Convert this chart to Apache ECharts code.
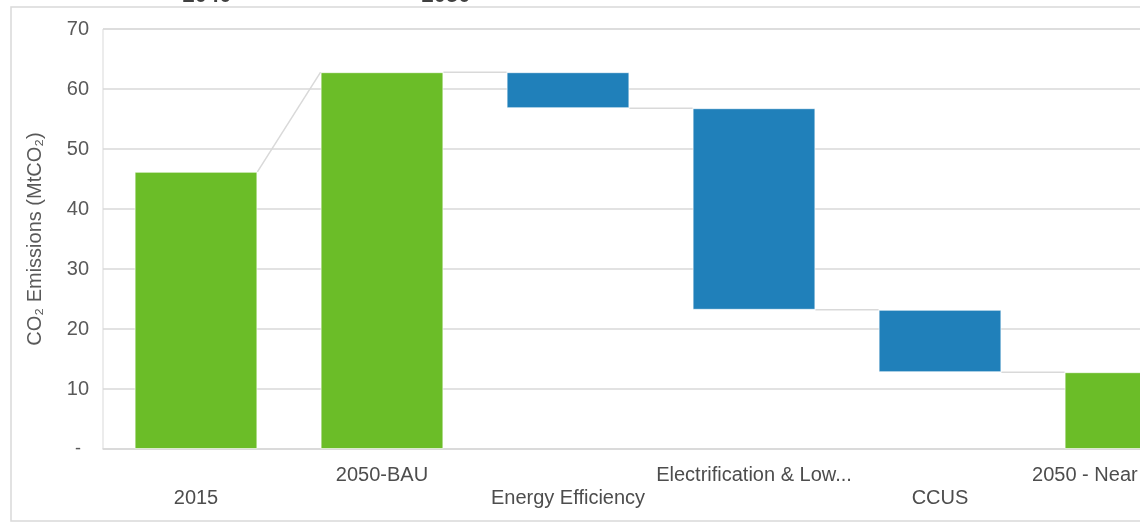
<!DOCTYPE html>
<html>
<head>
<meta charset="utf-8">
<script src="https://cdn.jsdelivr.net/npm/echarts@6/dist/echarts.min.js"></script>
<style>
  html, body { margin: 0; padding: 0; background: #fff; overflow: hidden; }
  #chart { width: 1240px; height: 522px; }
</style>
</head>
<body>
<div id="chart"></div>
<script>
// Waterfall of CO2 emissions: 2015 → 2050 business-as-usual → abatement levers → 2050 outcome
const categories = ['2015', '2050-BAU', 'Energy Efficiency', 'Electrification & Low-Carbon Fuels', 'CCUS', '2050 - Near Zero Emissions'];
const barTop    = [46.2, 62.8, 62.8, 56.8, 23.2, 12.8];   // MtCO2, upper end of each bar
const barBottom = [0,    0,    56.8, 23.2, 12.8, 0];      // MtCO2, lower end of each bar
const barKind   = ['total', 'total', 'change', 'change', 'change', 'total'];
const yTicks    = [0, 10, 20, 30, 40, 50, 60, 70];
const topHeadings = ['2040', '2050'];

const GREEN = '#6bbd28';
const BLUE = '#2080ba';
const GRID_GREY = '#d9d9d9';
const TEXT_GREY = '#595959';
const BAR_RATIO = 0.66;
const FONT = 'Liberation Sans, Arial, sans-serif';

const chart = echarts.init(document.getElementById('chart'));

// Connector segments: from the end of bar i to the start of bar i+1
const connectors = [];
for (let i = 0; i < categories.length - 1; i++) {
  const fromVal = barKind[i] === 'total' ? barTop[i] : barBottom[i];
  const toVal = barTop[i + 1];
  connectors.push([i, fromVal, toVal]);
}

const option = {
  animation: false,
  textStyle: { fontFamily: FONT },
  grid: { left: 103, top: 29, width: 1116, height: 420, show: true, borderColor: GRID_GREY, borderWidth: 1 },
  xAxis: {
    type: 'category',
    data: categories,
    axisLine: { show: true, lineStyle: { color: GRID_GREY, width: 1.5 } },
    axisTick: { show: false },
    axisLabel: {
      interval: 0,
      margin: 15,
      color: '#4d4d4d',
      fontSize: 20,
      lineHeight: 23,
      width: 198,
      overflow: 'truncate',
      formatter: (v, i) => (i % 2 === 0 ? '\n' + v : v)
    }
  },
  yAxis: {
    type: 'value',
    min: 0,
    max: 70,
    interval: 10,
    name: 'CO\u2082 Emissions (MtCO\u2082)',
    nameLocation: 'middle',
    nameGap: 58,
    nameTextStyle: { color: TEXT_GREY, fontSize: 20 },
    axisLine: { show: false },
    axisTick: { show: false },
    splitLine: { lineStyle: { color: GRID_GREY, width: 1.5 } },
    axisLabel: {
      color: TEXT_GREY,
      fontSize: 20,
      margin: 14,
      formatter: v => (yTicks.includes(v) ? (v === 0 ? '{z|-}' : String(v)) : ''),
      rich: { z: { fontSize: 18, color: TEXT_GREY, padding: [0, 8, 0, 0] } }
    }
  },
  series: [
    {
      type: 'bar',
      stack: 'wf',
      barWidth: (BAR_RATIO * 100) + '%',
      silent: true,
      itemStyle: { color: 'transparent' },
      data: barBottom
    },
    {
      type: 'bar',
      stack: 'wf',
      barWidth: (BAR_RATIO * 100) + '%',
      data: barTop.map((t, i) => ({
        value: +(t - barBottom[i]).toFixed(2),
        itemStyle: { color: barKind[i] === 'total' ? GREEN : BLUE, borderColor: 'rgba(255,255,255,0.6)', borderWidth: 1 }
      }))
    },
    {
      type: 'custom',
      silent: true,
      z: 1,
      data: connectors,
      renderItem: (params, api) => {
        const i = api.value(0);
        const half = api.size([1, 0])[0] * BAR_RATIO / 2;
        const p1 = api.coord([i, api.value(1)]);
        const p2 = api.coord([i + 1, api.value(2)]);
        return {
          type: 'line',
          shape: { x1: p1[0] + half, y1: p1[1], x2: p2[0] - half, y2: p2[1] },
          style: { stroke: GRID_GREY, lineWidth: 1.5 }
        };
      }
    }
  ],
  graphic: [
    {
      type: 'rect',
      shape: { x: 11, y: 7, width: 1300, height: 514 },
      style: { fill: 'none', stroke: GRID_GREY, lineWidth: 1.5 },
      z: -1
    },
    {
      type: 'text', x: 207, y: 7,
      style: { text: topHeadings[0], fill: '#404040', font: 'bold 22px ' + FONT, align: 'center', verticalAlign: 'bottom' }
    },
    {
      type: 'text', x: 446, y: 7,
      style: { text: topHeadings[1], fill: '#404040', font: 'bold 22px ' + FONT, align: 'center', verticalAlign: 'bottom' }
    }
  ]
};

chart.setOption(option);
</script>
</body>
</html>
